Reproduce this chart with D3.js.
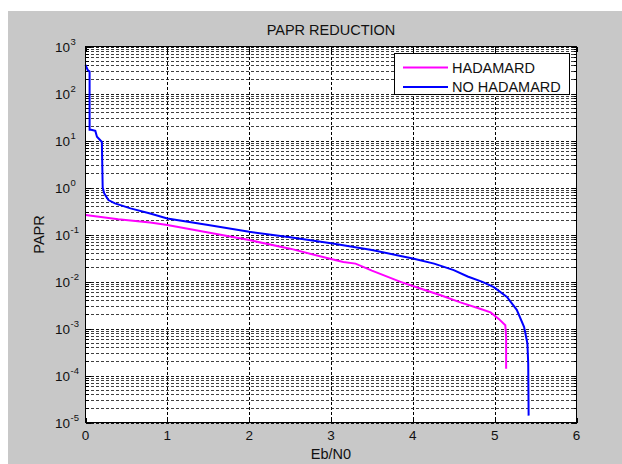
<!DOCTYPE html>
<html>
<head>
<meta charset="utf-8">
<script src="https://cdn.jsdelivr.net/npm/d3@7"></script>
<style>
  html, body { margin: 0; padding: 0; background: #fff; }
  svg { display: block; font-family: Arial, "Liberation Sans", sans-serif; }
</style>
</head>
<body>
<svg id="chart" width="622" height="464"></svg>
<script>
// values
var xTicks = [0, 1, 2, 3, 4, 5, 6];
var yExponents = [-5, -4, -3, -2, -1, 0, 1, 2, 3];

var hadamardX = [0, 0.4, 0.79, 1.0, 1.5, 2.0, 2.5, 3.0, 3.15, 3.3, 3.5, 3.85, 4.09, 4.34, 4.58, 4.83, 4.95, 5.05, 5.13, 5.14, 5.14];
var hadamardY = [0.26, 0.21, 0.18, 0.16, 0.11, 0.076, 0.05, 0.030, 0.026, 0.024, 0.017, 0.0098, 0.0071, 0.0051, 0.0036, 0.0026, 0.0022, 0.0016, 0.00117, 0.00066, 0.00014];

var noHadamardX = [0, 0.027, 0.05, 0.05, 0.07, 0.12, 0.14, 0.20, 0.21, 0.23, 0.28, 0.36, 0.55, 0.79, 1.0, 1.5, 2.0, 2.5, 3.0, 3.5, 3.85, 4.0, 4.26, 4.5, 4.67, 4.85, 4.99, 5.15, 5.27, 5.36, 5.40, 5.41, 5.415];
var noHadamardY = [407, 316, 295, 17, 17, 16, 12, 9.3, 1.0, 0.74, 0.54, 0.46, 0.36, 0.28, 0.22, 0.16, 0.114, 0.087, 0.065, 0.047, 0.035, 0.031, 0.024, 0.0175, 0.0128, 0.0098, 0.0076, 0.0047, 0.0025, 0.00107, 0.00048, 0.00018, 0.000014];

var seriesNames = ['HADAMARD', 'NO HADAMARD'];
var seriesColors = ['#ff00ff', '#0000ff'];

var svg = d3.select('#chart');

// figure background (grey like a matlab window)
svg.append('rect')
  .attr('x', 8).attr('y', 11)
  .attr('width', 614).attr('height', 453)
  .attr('fill', '#c8c8c8');

var axL = 85.5, axR = 576.5, axT = 46.5, axB = 422.5;

var x = d3.scaleLinear().domain([0, 6]).range([axL, axR]);
var y = d3.scaleLog().domain([1e-5, 1e3]).range([axB, axT]);

svg.append('rect')
  .attr('x', axL).attr('y', axT)
  .attr('width', axR - axL).attr('height', axB - axT)
  .attr('fill', '#fff');

// grid lines
var grid = svg.append('g').attr('class', 'grid')
  .attr('stroke', '#000').attr('stroke-width', 1)
  .attr('stroke-dasharray', '3,2').attr('shape-rendering', 'crispEdges');

var minorVals = [];
yExponents.slice(0, -1).forEach(function(e) {
  for (var k = 1; k <= 9; k++) minorVals.push(k * Math.pow(10, e));
});
minorVals.push(1e3);

function isMajor(d) {
  var m = d / Math.pow(10, Math.floor(Math.log10(d) + 1e-9));
  return Math.abs(m - 1) < 1e-6;
}

grid.selectAll('line.h')
  .data(minorVals)
  .join('line')
  .attr('class', 'h')
  .attr('x1', axL).attr('x2', axR)
  .attr('y1', function(d) { return Math.round(y(d)) + 0.5; })
  .attr('y2', function(d) { return Math.round(y(d)) + 0.5; })
  .attr('stroke-opacity', function(d) { return isMajor(d) ? 0.9 : 0.75; });

grid.selectAll('line.v')
  .data(xTicks.slice(1, -1))
  .join('line')
  .attr('class', 'v')
  .attr('y1', axT).attr('y2', axB)
  .attr('x1', function(d) { return Math.round(x(d)) + 0.5; })
  .attr('x2', function(d) { return Math.round(x(d)) + 0.5; });

// inner ticks on all four sides
var ticks = svg.append('g').attr('stroke', '#000').attr('shape-rendering', 'crispEdges');
minorVals.forEach(function(d) {
  var yy = Math.round(y(d)) + 0.5;
  var len = isMajor(d) ? 5 : 3;
  ticks.append('line').attr('x1', axL).attr('x2', axL + len).attr('y1', yy).attr('y2', yy);
  ticks.append('line').attr('x1', axR - len).attr('x2', axR).attr('y1', yy).attr('y2', yy);
});
xTicks.forEach(function(d) {
  var xx = Math.round(x(d)) + 0.5;
  ticks.append('line').attr('x1', xx).attr('x2', xx).attr('y1', axB).attr('y2', axB - 5);
  ticks.append('line').attr('x1', xx).attr('x2', xx).attr('y1', axT).attr('y2', axT + 5);
});

// curves
var line = d3.line()
  .x(function(d) { return x(d[0]); })
  .y(function(d) { return y(d[1]); });

var plot = svg.append('g');
plot.append('path')
  .datum(d3.zip(hadamardX, hadamardY))
  .attr('d', line)
  .attr('fill', 'none')
  .attr('stroke', seriesColors[0])
  .attr('stroke-width', 2);

plot.append('path')
  .datum(d3.zip(noHadamardX, noHadamardY))
  .attr('d', line)
  .attr('fill', 'none')
  .attr('stroke', seriesColors[1])
  .attr('stroke-width', 2);

// axes box
svg.append('rect')
  .attr('x', axL).attr('y', axT)
  .attr('width', axR - axL).attr('height', axB - axT)
  .attr('fill', 'none').attr('stroke', '#000').attr('stroke-width', 1)
  .attr('shape-rendering', 'crispEdges');

// tick labels
var labels = svg.append('g').attr('fill', '#111').attr('font-size', 13.5);
labels.selectAll('text.xt')
  .data(xTicks)
  .join('text')
  .attr('class', 'xt')
  .attr('x', function(d) { return x(d); })
  .attr('y', axB + 17)
  .attr('text-anchor', 'middle')
  .text(function(d) { return d; });

var yt = labels.selectAll('text.yt')
  .data(yExponents)
  .join('g')
  .attr('class', 'yt')
  .attr('transform', function(d) { return 'translate(0,' + (y(Math.pow(10, d)) + 5) + ')'; });
yt.append('text')
  .attr('x', 70)
  .attr('text-anchor', 'end')
  .text('10');
yt.append('text')
  .attr('x', 70.5).attr('y', -7)
  .attr('font-size', 9.5)
  .text(function(d) { return d; });

// titles
svg.append('text')
  .attr('x', (axL + axR) / 2).attr('y', 35)
  .attr('text-anchor', 'middle').attr('font-size', 14.5).attr('fill', '#111')
  .text('PAPR REDUCTION');

svg.append('text')
  .attr('x', (axL + axR) / 2).attr('y', 459)
  .attr('text-anchor', 'middle').attr('font-size', 14.5).attr('fill', '#111')
  .text('Eb/N0');

svg.append('text')
  .attr('transform', 'translate(44,' + ((axT + axB) / 2) + ') rotate(-90)')
  .attr('text-anchor', 'middle').attr('font-size', 14.5).attr('fill', '#111')
  .text('PAPR');

// legend
var legend = svg.append('g');
legend.append('rect')
  .attr('x', 394.5).attr('y', 53.5)
  .attr('width', 175).attr('height', 41)
  .attr('fill', '#fff').attr('stroke', '#000')
  .attr('shape-rendering', 'crispEdges');

var rows = legend.selectAll('g.row')
  .data(seriesNames)
  .join('g')
  .attr('class', 'row')
  .attr('transform', function(d, i) { return 'translate(0,' + (67.5 + i * 19.5) + ')'; });
rows.append('line')
  .attr('x1', 403).attr('x2', 448)
  .attr('stroke', function(d, i) { return seriesColors[i]; })
  .attr('stroke-width', 2);
rows.append('text')
  .attr('x', 452).attr('y', 5)
  .attr('font-size', 14.5).attr('fill', '#111')
  .text(function(d) { return d; });
</script>
</body>
</html>
